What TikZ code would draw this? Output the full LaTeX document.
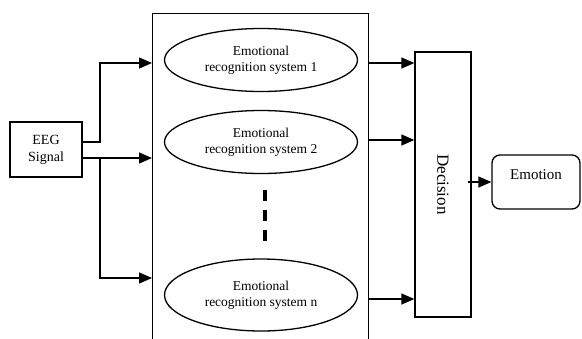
\documentclass[tikz,border=0pt]{standalone}
\usepackage{fontspec}
\setmainfont{Liberation Serif}
\usetikzlibrary{arrows.meta,shapes.geometric}
\begin{document}
\begin{tikzpicture}[x=1pt,y=-1pt,line width=1.3pt,
  arr/.style={-{Triangle[length=13pt,width=11pt]}},
  ell/.style={draw,ellipse,minimum width=193pt,minimum height=63pt,inner sep=0pt,align=center,font=\fontsize{13.5}{16}\selectfont},
  box/.style={draw,rectangle,inner sep=0pt},
  dotline/.style={line width=3.2pt,dash pattern=on 11pt off 9pt}]
\useasboundingbox (0,0) rectangle (582,338);
\clip (0,0) rectangle (582,338);
% big container box (open at the bottom edge of the picture)
\node[box,minimum width=216pt,minimum height=345pt,anchor=north west] (sys) at (152,13) {};
\node[ell] (e1) at (261,60) {Emotional\\recognition system 1};
\node[ell] (e2) at (261,142) {Emotional\\recognition system 2};
\node[ell,minimum height=72pt] (en) at (261,295) {Emotional\\recognition system n};
\coordinate (d1) at (265,190);
\coordinate (d2) at (265,242);
\draw[dotline] (d1) -- (d2);
% EEG input
\node[box,minimum width=72pt,minimum height=55pt,align=center,font=\fontsize{14}{17}\selectfont] (eeg) at (46,149.5) {EEG\\Signal};
\coordinate (s1) at (82,142);
\coordinate (s2) at (82,158);
\coordinate (b1) at (100,142);
\coordinate (b2) at (100,63);
\coordinate (b3) at (100,158);
\coordinate (b4) at (100,278);
\draw[arr] (s1) -- (b1) -- (b2) -- (sys.west |- b2);
\draw[arr] (s2) -- (sys.west |- s2);
\draw[arr] (b3) -- (b4) -- (sys.west |- b4);
% decision
\node[box,minimum width=56pt,minimum height=265pt] (dec) at (443,184.5) {};
\node[rotate=-90,font=\fontsize{17}{20}\selectfont] (dect) at (dec.center) {Decision};
\coordinate (o1) at (368,63);
\coordinate (o2) at (368,140);
\coordinate (o3) at (368,299);
\draw[arr] (o1) -- (dec.west |- o1);
\draw[arr] (o2) -- (dec.west |- o2);
\draw[arr] (o3) -- (dec.west |- o3);
% emotion
\node[box,rounded corners=8pt,minimum width=88pt,minimum height=54pt] (emo) at (536,182) {};
\node[font=\fontsize{15}{18}\selectfont] (emot) at ([yshift=7pt]emo.center) {Emotion};
\coordinate (ds) at (468,182);
\draw[arr] (ds) -- (emo.west);
\end{tikzpicture}
\end{document}
